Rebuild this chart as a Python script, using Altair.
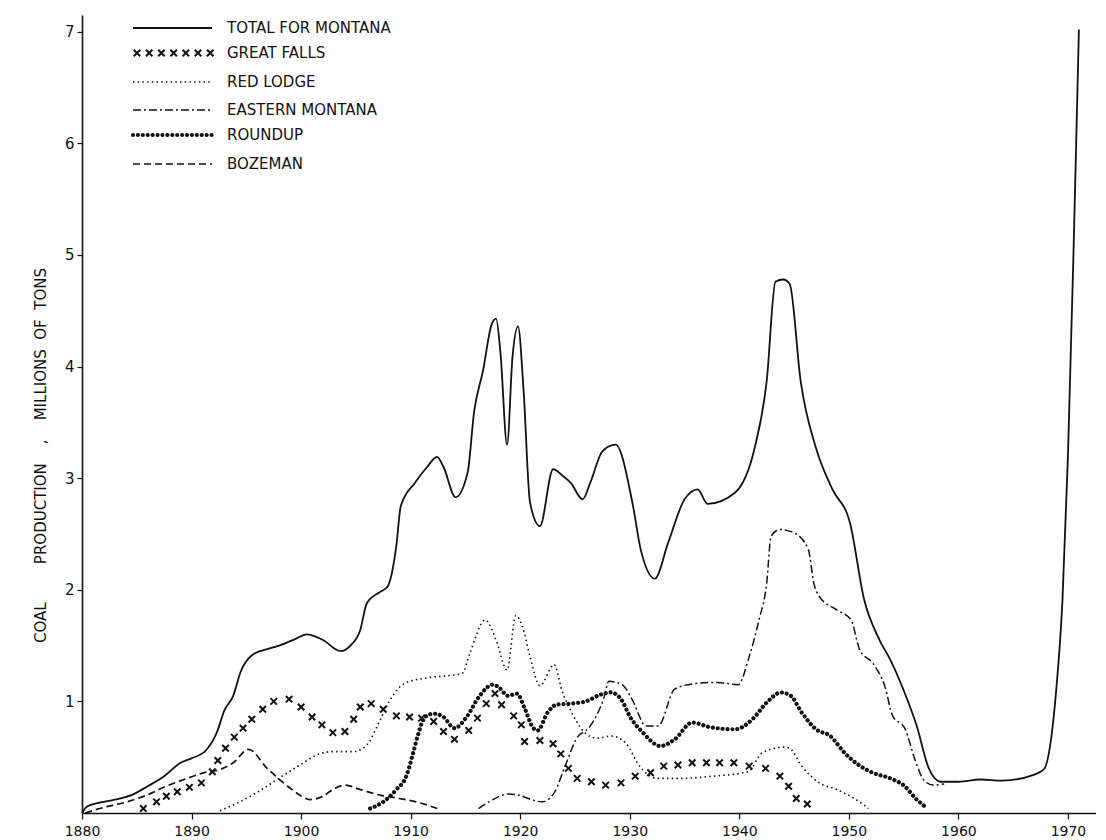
import altair as alt
import pandas as pd

# ---------------- data ----------------
total_year = [1880.0, 1880.5, 1881.5, 1883.0, 1884.5, 1886.0, 1887.5, 1889.0, 1890.0, 1891.3,
              1892.3, 1893.0, 1893.8, 1894.5, 1895.6, 1897.0, 1898.0, 1899.5, 1900.5, 1902.0,
              1903.6, 1904.5, 1905.4, 1906.0, 1907.2, 1907.9, 1908.7, 1909.1, 1910.4, 1911.5,
              1912.4, 1913.0, 1914.1, 1915.2, 1915.8, 1916.6, 1917.4, 1917.8, 1918.2, 1918.8,
              1919.3, 1919.8, 1920.3, 1920.9, 1921.8, 1923.0, 1923.9, 1924.6, 1925.7, 1926.4,
              1927.5, 1928.7, 1930.3, 1931.0, 1932.3, 1933.5, 1935.0, 1936.2, 1937.1, 1939.6,
              1941.4, 1942.5, 1943.3, 1944.0, 1944.6, 1945.6, 1947.0, 1948.5, 1950.1, 1951.4,
              1952.8, 1953.8, 1955.0, 1956.2, 1957.3, 1958.4, 1960.0, 1962.0, 1964.0, 1966.8,
              1967.8, 1968.9, 1969.5, 1970.0, 1970.5, 1970.8, 1971.0]
total_value = [0.0, 0.06, 0.09, 0.12, 0.16, 0.24, 0.33, 0.45, 0.49, 0.56,
               0.72, 0.92, 1.05, 1.27, 1.42, 1.47, 1.50, 1.56, 1.60, 1.55,
               1.45, 1.50, 1.64, 1.88, 1.98, 2.03, 2.40, 2.75, 2.96, 3.10,
               3.19, 3.10, 2.83, 3.05, 3.60, 3.96, 4.38, 4.43, 4.12, 3.30,
               4.09, 4.36, 3.80, 2.78, 2.57, 3.08, 3.02, 2.96, 2.81, 2.96,
               3.24, 3.30, 2.75, 2.36, 2.10, 2.42, 2.81, 2.90, 2.77, 2.87,
               3.27, 3.87, 4.76, 4.78, 4.74, 3.87, 3.27, 2.90, 2.60, 1.91,
               1.55, 1.37, 1.10, 0.78, 0.40, 0.28, 0.28, 0.30, 0.29, 0.34,
               0.39, 1.07, 1.91, 3.20, 5.00, 6.20, 7.02]

gf_year = [1885.6, 1886.8, 1887.7, 1888.7, 1889.8, 1890.9, 1891.9, 1892.4, 1893.1, 1893.9,
           1894.7, 1895.5, 1896.5, 1897.5, 1898.9, 1900.0, 1901.0, 1901.9, 1902.9, 1904.0,
           1904.8, 1905.4, 1906.4, 1907.5, 1908.7, 1909.9, 1911.0, 1912.1, 1913.0, 1914.0,
           1915.3, 1916.1, 1916.9, 1917.7, 1918.3, 1919.4, 1920.1, 1920.4, 1921.8, 1923.0,
           1923.7, 1924.4, 1925.2, 1926.5, 1927.8, 1929.2, 1930.5, 1931.9, 1933.1, 1934.4,
           1935.7, 1937.0, 1938.2, 1939.5, 1940.9, 1942.4, 1943.7, 1944.5, 1945.2, 1946.2]
gf_value = [0.04, 0.10, 0.15, 0.19, 0.23, 0.27, 0.37, 0.47, 0.58, 0.68,
            0.76, 0.84, 0.93, 1.00, 1.02, 0.95, 0.86, 0.79, 0.72, 0.73,
            0.84, 0.95, 0.98, 0.93, 0.87, 0.86, 0.85, 0.82, 0.73, 0.66,
            0.74, 0.85, 0.98, 1.07, 0.97, 0.87, 0.79, 0.64, 0.65, 0.62,
            0.53, 0.40, 0.31, 0.28, 0.25, 0.27, 0.33, 0.36, 0.42, 0.43,
            0.45, 0.45, 0.45, 0.45, 0.42, 0.40, 0.33, 0.24, 0.13, 0.08]

rl_year = [1892.6, 1894.4, 1895.9, 1897.8, 1899.9, 1901.7, 1902.9, 1904.8, 1906.0, 1907.2,
           1908.1, 1909.6, 1911.5, 1914.7, 1915.4, 1916.8, 1917.8, 1918.8, 1919.6, 1920.2,
           1920.9, 1921.8, 1923.1, 1923.8, 1924.7, 1925.9, 1927.0, 1928.3, 1929.6, 1930.9,
           1932.5, 1934.4, 1937.6, 1940.8, 1942.1, 1944.1, 1944.6, 1945.7, 1947.3, 1948.9,
           1950.5, 1951.8]
rl_value = [0.02, 0.10, 0.18, 0.30, 0.43, 0.53, 0.55, 0.55, 0.61, 0.83,
            1.01, 1.17, 1.21, 1.25, 1.43, 1.73, 1.55, 1.28, 1.77, 1.67,
            1.40, 1.14, 1.33, 1.10, 0.90, 0.72, 0.67, 0.69, 0.63, 0.42,
            0.31, 0.31, 0.33, 0.37, 0.54, 0.59, 0.58, 0.42, 0.27, 0.21,
            0.13, 0.04]

em_year = [1916.2, 1917.5, 1918.9, 1919.9, 1921.0, 1922.0, 1923.1, 1924.1, 1925.1, 1926.4,
           1927.6, 1928.1, 1929.3, 1930.2, 1931.5, 1932.6, 1934.1, 1936.0, 1938.0, 1939.9,
           1940.9, 1941.8, 1942.5, 1942.9, 1943.7, 1945.0, 1946.3, 1946.8, 1947.3, 1948.9,
           1950.2, 1951.0, 1952.2, 1953.3, 1954.0, 1955.1, 1956.1, 1956.8, 1957.7, 1958.7]
em_value = [0.04, 0.12, 0.17, 0.16, 0.12, 0.10, 0.18, 0.42, 0.66, 0.78,
            1.02, 1.18, 1.15, 1.02, 0.78, 0.78, 1.11, 1.16, 1.17, 1.15,
            1.40, 1.73, 2.06, 2.48, 2.54, 2.51, 2.36, 2.06, 1.94, 1.82,
            1.73, 1.46, 1.34, 1.13, 0.87, 0.76, 0.46, 0.30, 0.25, 0.26]

ru_year = [1906.3, 1907.5, 1908.7, 1909.6, 1910.2, 1910.7, 1911.3, 1912.1, 1913.0, 1914.0,
           1915.1, 1916.3, 1917.5, 1918.0, 1918.9, 1919.7, 1920.4, 1921.2, 1921.6, 1922.5,
           1923.3, 1924.6, 1926.0, 1927.3, 1928.3, 1929.2, 1930.1, 1931.2, 1932.8, 1934.1,
           1935.7, 1937.3, 1939.6, 1941.2, 1942.5, 1943.8, 1944.7, 1945.7, 1947.0, 1948.3,
           1949.6, 1950.9, 1952.2, 1953.8, 1955.1, 1956.1, 1957.2]
ru_value = [0.04, 0.10, 0.21, 0.33, 0.53, 0.71, 0.86, 0.89, 0.86, 0.76,
            0.86, 1.05, 1.15, 1.13, 1.05, 1.07, 0.94, 0.76, 0.74, 0.90,
            0.97, 0.98, 1.00, 1.06, 1.08, 1.02, 0.85, 0.72, 0.60, 0.66,
            0.81, 0.77, 0.75, 0.84, 0.99, 1.08, 1.05, 0.90, 0.75, 0.69,
            0.54, 0.43, 0.36, 0.31, 0.24, 0.13, 0.04]

bz_year = [1880.3, 1881.6, 1884.1, 1885.9, 1887.7, 1889.6, 1891.1, 1892.6, 1893.8, 1895.2,
           1896.9, 1898.4, 1899.9, 1900.8, 1902.0, 1902.9, 1904.0, 1905.4, 1907.2, 1909.0,
           1910.9, 1912.7]
bz_value = [0.0, 0.04, 0.10, 0.16, 0.24, 0.31, 0.36, 0.39, 0.45, 0.57,
            0.40, 0.27, 0.16, 0.12, 0.15, 0.21, 0.25, 0.21, 0.16, 0.13,
            0.09, 0.03]

legend_labels = ["TOTAL FOR MONTANA", "GREAT FALLS", "RED LODGE",
                 "EASTERN MONTANA", "ROUNDUP", "BOZEMAN"]
x_tick_labels = [1880, 1890, 1900, 1910, 1920, 1930, 1940, 1950, 1960, 1970]
y_tick_labels = [1, 2, 3, 4, 5, 6, 7]
NB = "\u00a0"
y_title = ("COAL" + NB * 8 + "PRODUCTION" + NB * 4 + "," + NB * 4
           + "MILLIONS" + NB * 2 + "OF" + NB * 2 + "TONS")

# ---------------- helpers ----------------
FONT = "DejaVu Sans"
INK = "#111111"


def frame(years, values):
    return pd.DataFrame({"year": years, "value": values})


x_enc = alt.X(
    "year:Q",
    scale=alt.Scale(domain=[1880, 1972.56], nice=False, zero=False),
    axis=alt.Axis(values=x_tick_labels, format="d", title=None, grid=False,
                  domainColor=INK, domainWidth=1.6, tickColor=INK, tickWidth=1.2,
                  tickSize=6, labelFont=FONT, labelFontSize=14, labelColor=INK,
                  labelPadding=5, labelFlush=False),
)
y_enc = alt.Y(
    "value:Q",
    scale=alt.Scale(domain=[0, 7.15], nice=False),
    axis=alt.Axis(values=y_tick_labels, format="d", grid=False,
                  domainColor=INK, domainWidth=1.6, tickColor=INK, tickWidth=1.2,
                  tickSize=5, labelFont=FONT, labelFontSize=15, labelColor=INK,
                  labelPadding=3, title=y_title, titleFont=FONT, titleFontSize=15,
                  titleFontWeight="normal", titleColor=INK, titleAngle=-90,
                  titleX=-42, titleY=440, titleAlign="center",
                  titleBaseline="middle"),
)

XPATH = "M-1,-1L1,1M-1,1L1,-1"

total = alt.Chart(frame(total_year, total_value)).mark_line(
    color=INK, strokeWidth=1.8, interpolate="monotone"
).encode(x=x_enc, y=y_enc)

great_falls = alt.Chart(frame(gf_year, gf_value)).mark_point(
    shape=XPATH, size=42, filled=False, color=INK, strokeWidth=2.0, opacity=1
).encode(x=x_enc, y=y_enc)

red_lodge = alt.Chart(frame(rl_year, rl_value)).mark_line(
    color=INK, strokeWidth=1.6, strokeDash=[1.5, 3.2], interpolate="monotone"
).encode(x=x_enc, y=y_enc)

eastern = alt.Chart(frame(em_year, em_value)).mark_line(
    color=INK, strokeWidth=1.5, strokeDash=[8, 3, 2, 3], interpolate="monotone"
).encode(x=x_enc, y=y_enc)

roundup = alt.Chart(frame(ru_year, ru_value)).mark_line(
    color=INK, strokeWidth=4.2, strokeDash=[0.01, 4.9], strokeCap="round",
    interpolate="monotone"
).encode(x=x_enc, y=y_enc)

bozeman = alt.Chart(frame(bz_year, bz_value)).mark_line(
    color=INK, strokeWidth=1.7, strokeDash=[7, 4], interpolate="monotone"
).encode(x=x_enc, y=y_enc)

# ---------------- hand-drawn style legend ----------------
one = alt.Data(values=[{"k": 0}])
rows_y = [13, 38, 67, 95, 120, 149]
sx0, sx1, lx = 51, 130, 145

legend_layers = []
sample_styles = [
    dict(strokeWidth=1.8),
    None,
    dict(strokeWidth=1.6, strokeDash=[1.5, 3.2]),
    dict(strokeWidth=1.5, strokeDash=[8, 3, 2, 3]),
    dict(strokeWidth=4.2, strokeDash=[0.01, 4.9], strokeCap="round"),
    dict(strokeWidth=1.7, strokeDash=[7, 4]),
]
for label, yy, style in zip(legend_labels, rows_y, sample_styles):
    if style is None:
        for i in range(7):
            legend_layers.append(
                alt.Chart(one).mark_point(shape=XPATH, size=42, filled=False,
                                          color=INK, strokeWidth=2.0, opacity=1)
                .encode(x=alt.value(sx0 + 4 + i * 12.2), y=alt.value(yy))
            )
    else:
        legend_layers.append(
            alt.Chart(one).mark_rule(color=INK, **style)
            .encode(x=alt.value(sx0), x2=alt.value(sx1), y=alt.value(yy))
        )
    legend_layers.append(
        alt.Chart(alt.Data(values=[{"label": label}])).mark_text(
            font=FONT, fontSize=15, color=INK, align="left", baseline="middle"
        ).encode(text="label:N", x=alt.value(lx), y=alt.value(yy))
    )

chart = alt.layer(
    total, great_falls, red_lodge, eastern, roundup, bozeman, *legend_layers
).properties(
    width=1014, height=798,
    padding={"left": 25, "top": 7, "right": 0, "bottom": 0},
    background="white",
).configure_view(strokeWidth=0)

chart.save("out.html", embed_options={"renderer": "svg", "actions": False})
